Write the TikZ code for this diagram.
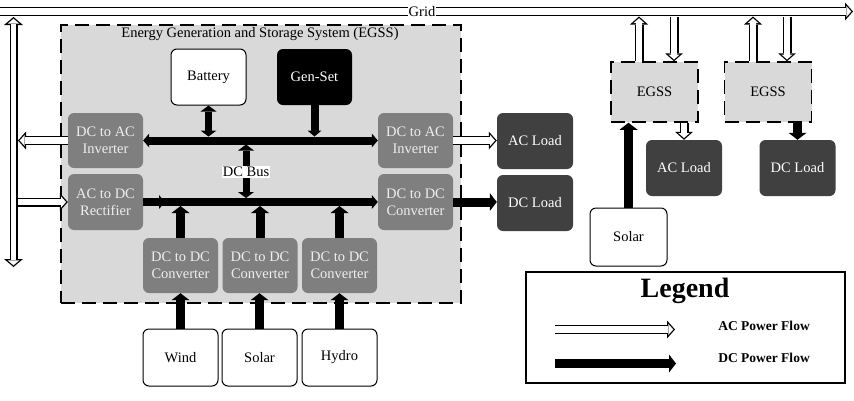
\documentclass[tikz,border=0pt]{standalone}
\usepackage{fontspec}
\setmainfont{Liberation Serif}
\usetikzlibrary{arrows.meta}
\definecolor{convgray}{HTML}{7F7F7F}
\definecolor{loadgray}{HTML}{404040}
\definecolor{egssfill}{HTML}{D9D9D9}
\definecolor{convtext}{HTML}{EEEEEE}
\tikzset{
  lbl/.style={font=\fontsize{14.5}{17}\selectfont},
  box/.style={rounded corners=6pt, minimum width=75pt, minimum height=55pt, align=center, inner sep=0pt, lbl},
  convbox/.style={box, fill=convgray, text=convtext},
  loadbox/.style={box, fill=loadgray, text=white, minimum width=76pt, minimum height=56pt},
  srcbox/.style={box, draw=black, line width=1pt, fill=white, minimum height=57pt},
  egssbox/.style={draw=black, line width=1.5pt, dash pattern=on 14pt off 7pt, fill=egssfill},
  smallegss/.style={egssbox, minimum width=87pt, minimum height=60pt, inner sep=0pt, lbl},
  dcarrow/.style={draw=black, line width=9pt, -{Triangle[length=7pt,width=18pt,line width=0pt]}},
  dcbus/.style={draw=black, line width=8pt, -{Triangle[length=6pt,width=14pt,line width=0pt]}},
  dcbusboth/.style={draw=black, line width=8pt, {Triangle[length=6pt,width=14pt,line width=0pt]}-{Triangle[length=6pt,width=14pt,line width=0pt]}},
  dcboth/.style={draw=black, line width=7pt, {Triangle[length=6pt,width=16pt,line width=0pt]}-{Triangle[length=6pt,width=16pt,line width=0pt]}},
  acarrow/.style={draw=black, line width=9pt, -{Triangle[length=8pt,width=18pt,line width=0pt]},
    postaction={draw=white, line width=6.4pt, shorten >=1.74pt, -{Triangle[length=5pt,width=11.2pt,line width=0pt]}}},
  acboth/.style={draw=black, line width=8pt, {Triangle[length=8pt,width=19pt,line width=0pt]}-{Triangle[length=8pt,width=19pt,line width=0pt]},
    postaction={draw=white, line width=5.4pt, shorten >=1.74pt, shorten <=1.74pt, {Triangle[length=5pt,width=11.9pt,line width=0pt]}-{Triangle[length=5pt,width=11.9pt,line width=0pt]}}},
}
\begin{document}
\begin{tikzpicture}[x=1pt,y=-1pt]
\useasboundingbox (0,0) rectangle (854,400);
% main EGSS
\node[egssbox, minimum width=400pt, minimum height=278pt, anchor=north west, inner sep=0pt] (egss) at (60,24) {};
\node[lbl] (title) at (260,34.5) {Energy Generation and Storage System (EGSS)};
% nodes
\node[srcbox, minimum height=56pt] (battery) at (208.5,77) {Battery};
\node[box, fill=black, text=white, minimum height=56pt] (genset) at (314.5,77) {Gen-Set};
\node[convbox] (invL) at (105.5,140.5) {DC to AC\\Inverter};
\node[convbox] (invR) at (415.5,140.5) {DC to AC\\Inverter};
\node[convbox, minimum height=56pt] (rect) at (105.5,202) {AC to DC\\Rectifier};
\node[convbox, minimum height=56pt] (ddcR) at (415.5,202) {DC to DC\\Converter};
\node[convbox] (conv1) at (180.5,265.5) {DC to DC\\Converter};
\node[convbox] (conv2) at (260,265.5) {DC to DC\\Converter};
\node[convbox] (conv3) at (339.5,265.5) {DC to DC\\Converter};
\node[srcbox] (wind) at (180.5,357.5) {Wind};
\node[srcbox] (solar) at (259.5,357.5) {Solar};
\node[srcbox] (hydro) at (339.5,357.5) {Hydro};
\node[loadbox] (acload) at (535,141) {AC Load};
\node[loadbox] (dcload) at (535,203) {DC Load};
\node[smallegss] (egss1) at (654.5,92) {EGSS};
\node[smallegss] (egss2) at (768,92) {EGSS};
\node[loadbox] (acload2) at (684,168) {AC Load};
\node[loadbox] (dcload2) at (797.5,168) {DC Load};
\node[srcbox, minimum width=77pt, minimum height=58pt] (solar2) at (628.5,237) {Solar};
% coordinates
\coordinate (busTop) at (0,136.5);
\coordinate (busBot) at (0,144.5);
\coordinate (lbusTop) at (0,198);
\coordinate (lbusBot) at (0,206);
\coordinate (gridBot) at (0,16.5);
\coordinate (vR) at (18,0);
\coordinate (rectHead) at (165,202);
\coordinate (gridL) at (-5,11.5);
\coordinate (gridR) at (853,11.5);
\coordinate (vTop) at (13.5,17);
\coordinate (vBot) at (13.5,267);
\coordinate (dcbA) at (246,144.5);
\coordinate (dcbB) at (246,198);
% grid
\draw[acarrow] (gridL) -- (gridR);
\node[lbl, fill=white, inner sep=0.5pt] (gridlbl) at (422,11.5) {Grid};
\draw[acboth] (vBot) -- (vTop);
% buses
\draw[dcbusboth] (invL.east) -- (invR.west);
\draw[dcboth] (battery.south) -- (battery.south |- busTop);
\draw[dcbus] (genset.south) -- (genset.south |- busTop);
\draw[dcboth] (dcbA) -- (dcbB);
\node[lbl, fill=white, inner sep=1pt] (dcbuslbl) at (246,172) {DC Bus};
\draw[dcbus] (rect.east) -- (ddcR.west);
\draw[dcbus] (rect.east) -- (rectHead);
\draw[dcarrow] (conv1.north) -- (conv1.north |- lbusBot);
\draw[dcarrow] (conv2.north) -- (conv2.north |- lbusBot);
\draw[dcarrow] (conv3.north) -- (conv3.north |- lbusBot);
\draw[dcarrow] (wind.north) -- (wind.north |- conv1.south);
\draw[dcarrow] (solar.north) -- (solar.north |- conv2.south);
\draw[dcarrow] (hydro.north) -- (hydro.north |- conv3.south);
% outputs
\draw[acarrow] (invR.east) -- (invR.east -| acload.west);
\draw[dcarrow] (ddcR.east) -- (ddcR.east -| dcload.west);
\draw[acarrow] (invL.west) -- (invL.west -| vR);
\draw[acarrow] (rect.west -| vR) -- (rect.west);
% small EGSS connections
\coordinate (e1u) at ([xshift=-15.5pt]egss1.north);
\coordinate (e1d) at ([xshift=19.5pt]egss1.north);
\coordinate (e2u) at ([xshift=-15pt]egss2.north);
\coordinate (e2d) at ([xshift=19pt]egss2.north);
\draw[acarrow] (e1u) -- (e1u |- gridBot);
\draw[acarrow] (e1d |- gridBot) -- (e1d);
\draw[acarrow] (e2u) -- (e2u |- gridBot);
\draw[acarrow] (e2d |- gridBot) -- (e2d);
\draw[acarrow] (egss1.south -| acload2.north) -- (acload2.north);
\draw[dcarrow] (egss2.south -| dcload2.north) -- (dcload2.north);
\draw[dcarrow] (solar2.north) -- (solar2.north |- egss1.south);
% legend
\node[draw=black, line width=1.5pt, minimum width=319pt, minimum height=111pt, anchor=north west, inner sep=0pt] (legend) at (525,271) {};
\node[font=\fontsize{28}{32}\selectfont\bfseries] (legtitle) at (685,291) {Legend};
\coordinate (lacA) at (555,329.5);
\coordinate (lacB) at (675,329.5);
\coordinate (ldcA) at (555,363.5);
\coordinate (ldcB) at (676,363.5);
\draw[acarrow] (lacA) -- (lacB);
\draw[dcarrow] (ldcA) -- (ldcB);
\node[font=\fontsize{13.5}{16}\selectfont\bfseries] (aclbl) at (764,326) {AC Power Flow};
\node[font=\fontsize{13.5}{16}\selectfont\bfseries] (dclbl) at (764,358) {DC Power Flow};
\end{tikzpicture}
\end{document}
